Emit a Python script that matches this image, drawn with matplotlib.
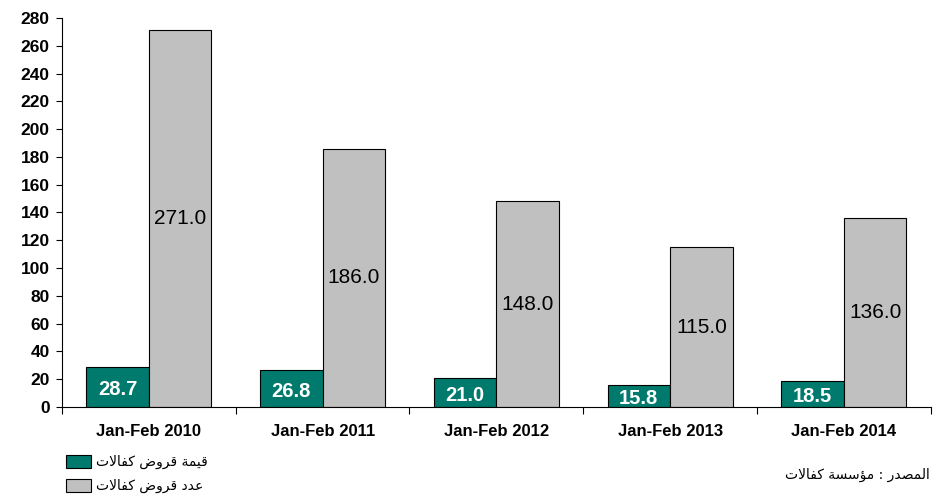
import matplotlib
matplotlib.use("Agg")
import matplotlib.pyplot as plt
from matplotlib.patches import Rectangle
import numpy as np

plt.rcParams["font.family"] = ["Liberation Sans", "DejaVu Sans"]

periods = ["Jan-Feb 2010", "Jan-Feb 2011", "Jan-Feb 2012", "Jan-Feb 2013", "Jan-Feb 2014"]
loan_value = [28.7, 26.8, 21.0, 15.8, 18.5]
loan_count = [271.0, 186.0, 148.0, 115.0, 136.0]

# Arabic in presentation forms, already in visual (left-to-right) order,
# since matplotlib does no shaping or bidi
W_VALUE = "\uFE94\uFEE4\uFEF4\uFED7"               # قيمة
W_LOANS = "\uFEBD\uFEED\uFEAE\uFED7"               # قروض
W_KAFALAT = "\uFE95\uFEFB\uFE8E\uFED4\uFEDB"       # كفالات
W_NUMBER = "\uFEA9\uFEAA\uFECB"                    # عدد
W_SOURCE = "\uFEAD\uFEAA\uFEBC\uFEE4\uFEDF\uFE8D"  # المصدر
W_INST = "\uFE94\uFEB4\uFEB3\uFE86\uFEE3"          # مؤسسة

label_value = " ".join([W_KAFALAT, W_LOANS, W_VALUE])
label_count = " ".join([W_KAFALAT, W_LOANS, W_NUMBER])
source_text = W_KAFALAT + " " + W_INST + " : " + W_SOURCE

GREEN = "#007A6C"
GRAY = "#C0C0C0"

fig = plt.figure(figsize=(9.33, 5.01), dpi=100)
ax = fig.add_axes([0.0665, 0.1876, 0.931, 0.7765])

x = np.arange(len(periods))
w = 0.36
ax.bar(x - 0.18, loan_value, width=w, color=GREEN, edgecolor="black", linewidth=0.8, zorder=2)
ax.bar(x + 0.18, loan_count, width=w, color=GRAY, edgecolor="black", linewidth=0.8, zorder=2)

for xi, v in zip(x, loan_value):
    ax.text(xi - 0.18, v / 2 - 2, f"{v:.1f}", ha="center", va="center",
            color="white", fontsize=14.5, fontweight="bold")
for xi, v in zip(x, loan_count):
    ax.text(xi + 0.18, v / 2, f"{v:.1f}", ha="center", va="center",
            color="black", fontsize=15)

ax.set_xlim(-0.5, len(periods) - 0.5)
ax.set_ylim(0, 280)
ax.set_yticks(range(0, 281, 20))
for lab in ax.get_yticklabels():
    lab.set_fontweight("bold")
    lab.set_fontsize(12.5)
ax.tick_params(axis="y", length=4, width=0.8, pad=5)

ax.set_xticks(x)
ax.set_xticklabels(periods, fontsize=12, fontweight="bold")
ax.tick_params(axis="x", which="major", length=0, pad=12)
ax.set_xticks(np.arange(-0.5, len(periods), 1.0), minor=True)
ax.tick_params(axis="x", which="minor", length=5, width=0.8)

for s in ["top", "right"]:
    ax.spines[s].set_visible(False)
ax.spines["left"].set_linewidth(0.8)
ax.spines["bottom"].set_linewidth(0.8)

# legend at bottom left
for yy, col, lab in [(0.066, GREEN, label_value), (0.017, GRAY, label_count)]:
    fig.patches.append(Rectangle((0.071, yy), 0.027, 0.026, transform=fig.transFigure,
                                 facecolor=col, edgecolor="black", linewidth=0.8))
    fig.text(0.103, yy + 0.013, lab, ha="left", va="center", fontsize=10,
             family=["DejaVu Sans"])

fig.text(0.997, 0.052, source_text, ha="right", va="center", fontsize=10,
         family=["DejaVu Sans"])

fig.savefig("out.png", dpi=100)
